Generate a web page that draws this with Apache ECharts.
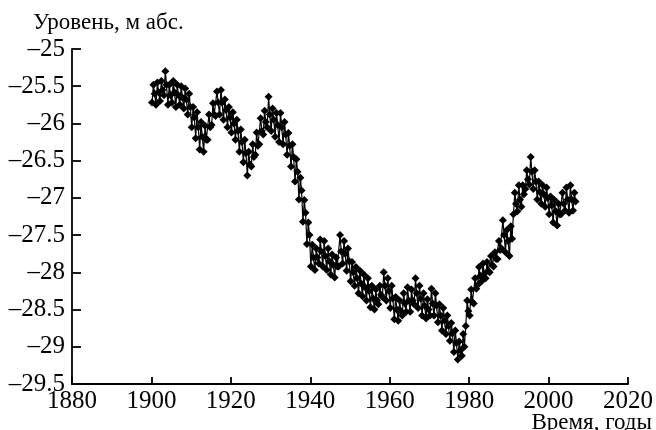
<!DOCTYPE html>
<html>
<head>
<meta charset="utf-8">
<script src="https://cdn.jsdelivr.net/npm/echarts@6/dist/echarts.min.js"></script>
<style>
html,body{margin:0;padding:0;background:#fff;}
#chart{width:656px;height:430px;}
</style>
</head>
<body>
<div id="chart"></div>
<script>
// Caspian Sea level, m abs. — per year: winter minimum, summer maximum, autumn level
const startYear = 1900;
const winterLow = [
  -25.72,-25.75,-25.70,-25.62,-25.75,-25.72,-25.78,-25.75,-25.80,-25.88, // 1900-1909
  -26.05,-26.20,-26.35,-26.38,-26.22,-26.02,-25.90,-25.88,-25.95,-26.05, // 1910-1919
  -26.12,-26.22,-26.38,-26.52,-26.70,-26.58,-26.42,-26.28,-26.15,-26.05, // 1920-1929
  -26.10,-26.18,-26.25,-26.28,-26.42,-26.58,-26.78,-27.02,-27.32,-27.62, // 1930-1939
  -27.92,-27.97,-27.88,-27.92,-27.97,-28.03,-28.07,-27.92,-27.88,-27.98, // 1940-1949
  -28.12,-28.18,-28.28,-28.32,-28.38,-28.47,-28.50,-28.43,-28.33,-28.38, // 1950-1959
  -28.48,-28.63,-28.65,-28.58,-28.53,-28.53,-28.43,-28.48,-28.58,-28.62, // 1960-1969
  -28.58,-28.58,-28.67,-28.78,-28.83,-28.92,-29.07,-29.17,-29.12,-28.72, // 1970-1979
  -28.58,-28.42,-28.17,-28.12,-28.08,-28.00,-27.92,-27.82,-27.68,-27.73, // 1980-1989
  -27.78,-27.22,-27.18,-27.12,-26.88,-26.82,-26.88,-27.02,-27.08,-27.12, // 1990-1999
  -27.22,-27.33,-27.37,-27.22,-27.17,-27.20,-27.17                        // 2000-2006
];
const summerHigh = [
  -25.48,-25.45,-25.43,-25.30,-25.48,-25.43,-25.48,-25.50,-25.53,-25.60,
  -25.78,-25.85,-25.98,-26.03,-25.88,-25.73,-25.57,-25.55,-25.68,-25.78,
  -25.85,-25.95,-26.08,-26.22,-26.38,-26.28,-26.12,-25.93,-25.83,-25.64,
  -25.80,-25.86,-25.86,-25.98,-26.13,-26.28,-26.48,-26.73,-27.03,-27.33,
  -27.63,-27.68,-27.56,-27.58,-27.68,-27.76,-27.80,-27.50,-27.58,-27.68,
  -27.86,-27.93,-27.98,-28.03,-28.08,-28.18,-28.23,-28.18,-28.00,-28.08,
  -28.18,-28.33,-28.38,-28.28,-28.20,-28.23,-28.08,-28.18,-28.28,-28.36,
  -28.22,-28.28,-28.43,-28.48,-28.58,-28.68,-28.78,-28.93,-28.83,-28.38,
  -28.23,-28.08,-27.93,-27.88,-27.86,-27.78,-27.73,-27.58,-27.30,-27.43,
  -27.38,-26.93,-26.83,-26.83,-26.63,-26.45,-26.63,-26.78,-26.83,-26.86,
  -26.98,-27.03,-27.08,-26.93,-26.86,-26.83,-26.93
];
const autumnLevel = [
  -25.60,-25.58,-25.55,-25.48,-25.62,-25.58,-25.62,-25.65,-25.68,-25.78,
  -25.92,-26.05,-26.18,-26.22,-26.05,-25.88,-25.72,-25.72,-25.82,-25.92,
  -26.00,-26.10,-26.25,-26.40,-26.55,-26.45,-26.30,-26.10,-25.98,-25.88,
  -25.95,-26.02,-26.05,-26.15,-26.30,-26.45,-26.65,-26.90,-27.20,-27.50,
  -27.80,-27.80,-27.72,-27.78,-27.85,-27.90,-27.92,-27.72,-27.75,-27.85,
  -28.00,-28.08,-28.15,-28.20,-28.25,-28.35,-28.38,-28.30,-28.18,-28.25,
  -28.35,-28.50,-28.52,-28.42,-28.38,-28.38,-28.28,-28.35,-28.45,-28.50,
  -28.42,-28.45,-28.58,-28.65,-28.72,-28.82,-28.95,-29.05,-29.00,-28.52,
  -28.40,-28.22,-28.05,-28.02,-27.98,-27.90,-27.82,-27.70,-27.50,-27.58,
  -27.55,-27.08,-27.02,-26.95,-26.75,-26.65,-26.78,-26.92,-26.95,-27.00,
  -27.10,-27.18,-27.22,-27.08,-27.02,-27.02,-27.05
];
const xTicks = {min: 1880, max: 2020, step: 20};
const yTicks = {min: -29.5, max: -25, step: 0.5};

const seriesData = [];
winterLow.forEach((v, i) => {
  seriesData.push([startYear + i + 0.15, v]);
  seriesData.push([startYear + i + 0.5, summerHigh[i]]);
  seriesData.push([startYear + i + 0.8, autumnLevel[i]]);
});

const FONT = "'Liberation Serif','Times New Roman',serif";
const chart = echarts.init(document.getElementById('chart'), null, {renderer: 'canvas'});
chart.setOption({
  animation: false,
  backgroundColor: '#fff',
  grid: {left: 72, right: 21, top: 49, bottom: 46, containLabel: false},
  xAxis: {
    type: 'value', min: xTicks.min, max: xTicks.max, interval: xTicks.step,
    axisLine: {show: true, onZero: false, lineStyle: {color: '#000', width: 1.8}},
    axisTick: {show: true, inside: true, length: 7, lineStyle: {color: '#000', width: 1.8}},
    axisLabel: {color: '#000', fontFamily: FONT, fontSize: 25, margin: 5,
      formatter: v => String(v)},
    splitLine: {show: false}
  },
  yAxis: {
    type: 'value', min: yTicks.min, max: yTicks.max, interval: yTicks.step,
    axisLine: {show: true, onZero: false, lineStyle: {color: '#000', width: 1.8}},
    axisTick: {show: true, inside: true, length: 9, lineStyle: {color: '#000', width: 1.8}},
    axisLabel: {color: '#000', fontFamily: FONT, fontSize: 25, margin: 7,
      formatter: v => String(v).replace('-', '\u2013')},
    splitLine: {show: false}
  },
  graphic: [
    {type: 'text', left: 33, top: 11, style: {text: 'Уровень, м абс.', fill: '#000', font: "23px 'Liberation Serif', serif"}},
    {type: 'text', right: 4, top: 411, style: {text: 'Время, годы', fill: '#000', font: "23px 'Liberation Serif', serif"}}
  ],
  series: [{
    type: 'line',
    data: seriesData,
    showAllSymbol: true,
    symbol: 'diamond',
    symbolSize: 8,
    itemStyle: {color: '#000'},
    lineStyle: {color: '#000', width: 1.2},
    clip: false
  }]
});
</script>
</body>
</html>
